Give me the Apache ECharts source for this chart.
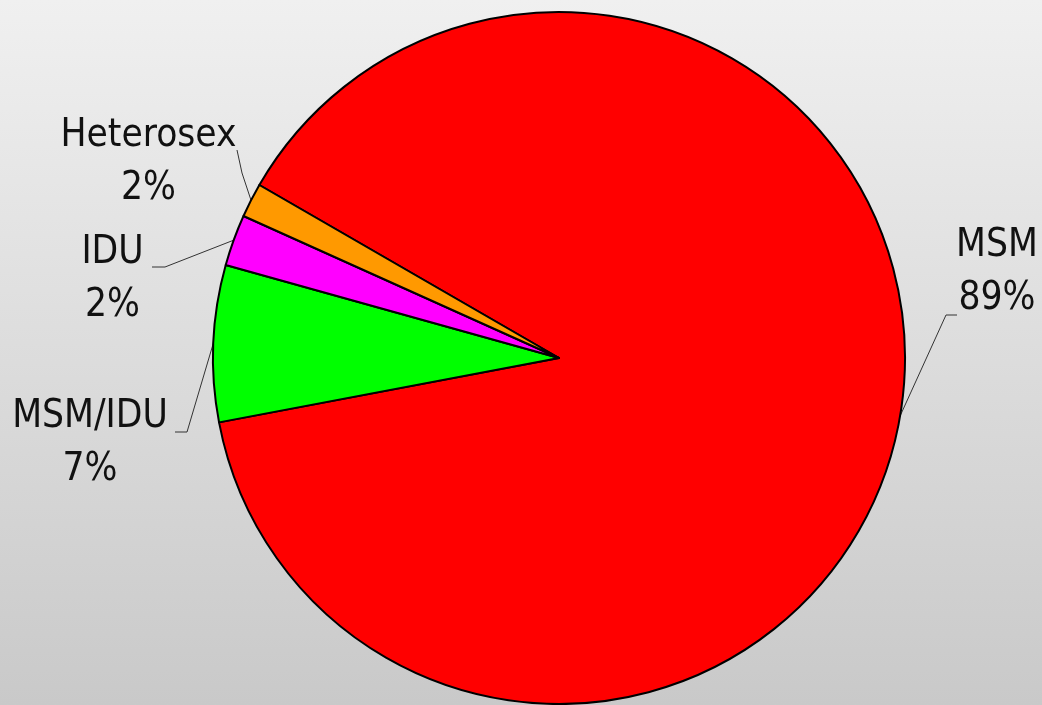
<!DOCTYPE html>
<html>
<head>
<meta charset="utf-8">
<script src="https://cdn.jsdelivr.net/npm/echarts@6/dist/echarts.min.js"></script>
<style>
  html, body { margin: 0; padding: 0; }
  #chart { width: 1042px; height: 705px; }
</style>
</head>
<body>
<div id="chart"></div>
<script>
// Data
const categories = ['MSM', 'MSM/IDU', 'IDU', 'Heterosex'];
const values = [88.6, 7.3, 2.4, 1.6];
const colors = ['#ff0000', '#00ff00', '#ff00ff', '#ff9900'];

// Label layout (text block centre x, top y, knee point, elbow end)
const labelPos = {
  'MSM':       { x: 997,   y: 219, knee: [946, 315], end: [957, 315] },
  'MSM/IDU':   { x: 90,    y: 390, knee: [187, 432], end: [175, 432] },
  'IDU':       { x: 112.5, y: 226, knee: [165, 267], end: [152, 267] },
  'Heterosex': { x: 148.5, y: 109, knee: [242, 173], end: [237, 150] }
};

// pick the narrowest-looking installed sans font (reference uses a condensed Arial-like face)
function pickFont() {
  const c = document.createElement('canvas').getContext('2d');
  const sample = 'MSM/IDU';
  const candidates = [
    { stretch: '', family: '"Liberation Sans Narrow"' },
    { stretch: '', family: '"Arial Narrow"' },
    { stretch: '', family: '"DejaVu Sans Condensed"' },
    { stretch: 'condensed', family: '"Noto Sans"' },
    { stretch: 'condensed', family: '"Open Sans"' },
    { stretch: '', family: '"Liberation Sans"' }
  ];
  function w(font) { c.font = font; return c.measureText(sample).width; }
  const target = 30 / 156;
  let best = null;
  for (const cand of candidates) {
    const fam = cand.family;
    const wm = w('100px monospace');
    const wf = w('100px ' + fam + ', monospace');
    if (Math.abs(wm - wf) < 0.5) continue; // not installed
    let stretch = cand.stretch;
    if (stretch) {
      const wn = w('100px ' + fam);
      const ws = w(stretch + ' 100px ' + fam);
      if (!(ws < wn - 1)) stretch = '';
      if (!stretch && cand.family !== '"Liberation Sans"') continue;
    }
    c.font = (stretch ? stretch + ' ' : '') + '100px ' + fam;
    const width = c.measureText(sample).width;
    const cap = c.measureText('H').actualBoundingBoxAscent || 71.6;
    const ratio = cap / width;
    const score = Math.abs(ratio - target);
    if (!best || score < best.score) best = { fam, stretch, width, score };
  }
  if (!best) best = { fam: 'sans-serif', stretch: '', width: 433 };
  const size = Math.round(156 / best.width * 100 * 2) / 2;
  return { family: best.fam + ', "Liberation Sans", sans-serif', stretch: best.stretch, size };
}
const font = pickFont();

const chart = echarts.init(document.getElementById('chart'), null, { renderer: 'canvas' });
chart.setOption({
  animation: false,
  backgroundColor: {
    type: 'linear', x: 0, y: 0, x2: 0, y2: 1,
    colorStops: [{ offset: 0, color: '#f0f0f0' }, { offset: 1, color: '#c9c9c9' }]
  },
  series: [{
    type: 'pie',
    center: [559, 358],
    radius: 346,
    startAngle: 150,
    clockwise: true,
    percentPrecision: 0,
    avoidLabelOverlap: false,
    data: categories.map((c, i) => ({ name: c, value: values[i], itemStyle: { color: colors[i] } })),
    itemStyle: { borderColor: '#000', borderWidth: 2 },
    label: {
      show: true,
      position: 'outside',
      formatter: '{b}\n{d}%',
      fontFamily: font.family,
      fontWeight: font.stretch || 'normal',
      fontSize: font.size,
      lineHeight: 53,
      color: '#111',
      align: 'center'
    },
    labelLine: {
      show: true,
      lineStyle: { color: '#333', width: 1 }
    },
    emphasis: { disabled: true },
    labelLayout: function (params) {
      const name = categories[params.dataIndex];
      const p = labelPos[name];
      const start = params.labelLinePoints ? params.labelLinePoints[0] : p.knee;
      return {
        x: p.x,
        y: p.y,
        align: 'center',
        verticalAlign: 'top',
        labelLinePoints: [start, p.knee, p.end]
      };
    }
  }]
});
</script>
</body>
</html>
